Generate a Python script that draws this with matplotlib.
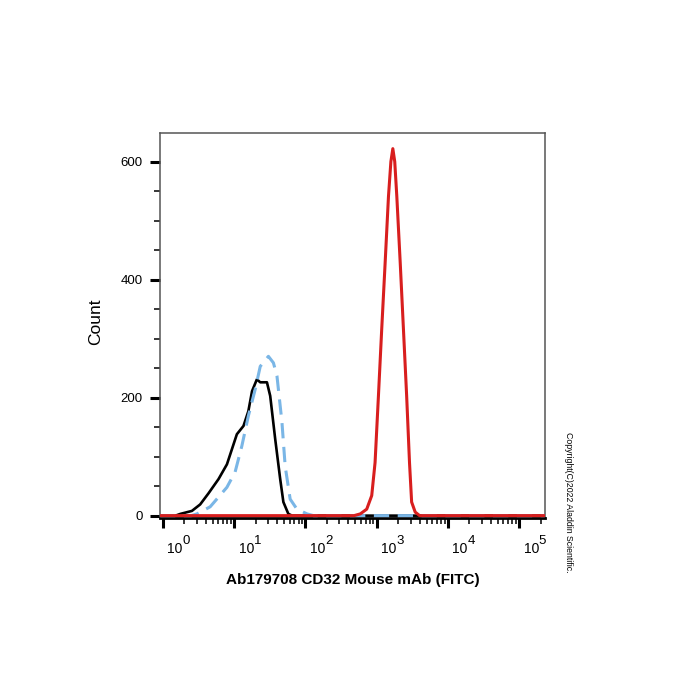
import matplotlib
matplotlib.use("Agg")
import numpy as np
import matplotlib.pyplot as plt
from matplotlib.ticker import LogLocator, MultipleLocator, NullFormatter
from matplotlib.transforms import ScaledTranslation

plt.rcParams["font.family"] = "Liberation Sans"

# isotype / unstained control (black)
black_x = [0.91, 1.5, 1.76, 2.55, 3.33, 4.37, 6.03, 7.91, 10.9, 13.5, 15.8, 17.8,
           20.8, 23.2, 28.8, 32.0, 37.6, 44.2, 49.0, 57.5, 65.0, 2.3e5]
black_y = [0, 0, 3, 8, 19, 38, 62, 87, 138, 152, 177, 211,
           231, 226, 226, 203, 130, 62, 23, 3, 0, 0]

# second control (blue dashed)
blue_x = [0.91, 2.5, 3.0, 4.6, 7.9, 10.3, 12.8, 15.8, 19.7, 23.2, 30.2,
          35.5, 39.8, 46.8, 51.9, 61.0, 75.9, 105, 130, 2.3e5]
blue_y = [0, 0, 3, 15, 48, 74, 118, 169, 214, 253, 270,
          259, 237, 158, 84, 28, 11, 3, 0, 0]

# CD32 stained sample (red)
red_x = [0.91, 480, 589, 724, 851, 948, 1057, 1175, 1312, 1462, 1580, 1683,
         1790, 1914, 2138, 2371, 2630, 2884, 3090, 3467, 4000, 2.3e5]
red_y = [0, 0, 3, 11, 34, 90, 203, 316, 428, 541, 600, 622,
         600, 541, 428, 316, 203, 90, 23, 6, 0, 0]

decades = [0, 1, 2, 3, 4, 5]
yticks = [0, 200, 400, 600]

fig = plt.figure(figsize=(7, 7), dpi=100)
ax = fig.add_axes([0.2286, 0.26, 0.55, 0.5504])

ax.plot(black_x, black_y, color="black", linewidth=1.9, zorder=3)
ax.plot(blue_x, blue_y, color="#7ab6e6", linewidth=2.2, dashes=(5, 2.8), zorder=4)
ax.plot(red_x, red_y, color="#d81e1e", linewidth=2.2, zorder=5)

ax.set_xscale("log")
ax.set_xlim(0.91, 2.3e5)
ax.set_ylim(-4, 649)

ax.xaxis.set_major_locator(LogLocator(base=10, numticks=10))
ax.xaxis.set_minor_locator(LogLocator(base=10, subs=np.arange(2, 10), numticks=20))
ax.xaxis.set_major_formatter(NullFormatter())
ax.xaxis.set_minor_formatter(NullFormatter())
ax.set_yticks(yticks)
ax.yaxis.set_minor_locator(MultipleLocator(50))

ax.tick_params(axis="both", which="major", direction="out", length=7.5, width=2.2,
               color="black", labelsize=9.5)
ax.tick_params(axis="y", which="major", pad=5)
ax.tick_params(axis="both", which="minor", direction="out", length=4.2, width=1.1,
               color="black")

for side in ["left", "top", "right"]:
    ax.spines[side].set_color("#555555")
    ax.spines[side].set_linewidth(1.1)
ax.spines["bottom"].set_color("black")
ax.spines["bottom"].set_linewidth(2)

# decade labels: "10" with a near full-size exponent, right of each tick
base_tr = ax.get_xaxis_transform() + ScaledTranslation(12 / 100, 0, fig.dpi_scale_trans)
sup_tr = ax.get_xaxis_transform() + ScaledTranslation(19.5 / 100, 8 / 100, fig.dpi_scale_trans)
for d in decades:
    ax.text(10.0 ** d, -0.08, "10", transform=base_tr,
            ha="center", va="center", fontsize=10)
    ax.text(10.0 ** d, -0.08, str(d), transform=sup_tr,
            ha="left", va="center", fontsize=9.5)

fig.text(0.137, 0.54, "Count", rotation=90, ha="center", va="center", fontsize=12.5)
fig.text(0.504, 0.171, "Ab179708 CD32 Mouse mAb (FITC)", ha="center", va="center",
         fontsize=11, fontweight="bold")
fig.text(0.812, 0.283, "Copyright(C)2022 Aladdin Scientific.", rotation=-90,
         ha="center", va="center", fontsize=6.3)

fig.savefig("out.png", dpi=100)
